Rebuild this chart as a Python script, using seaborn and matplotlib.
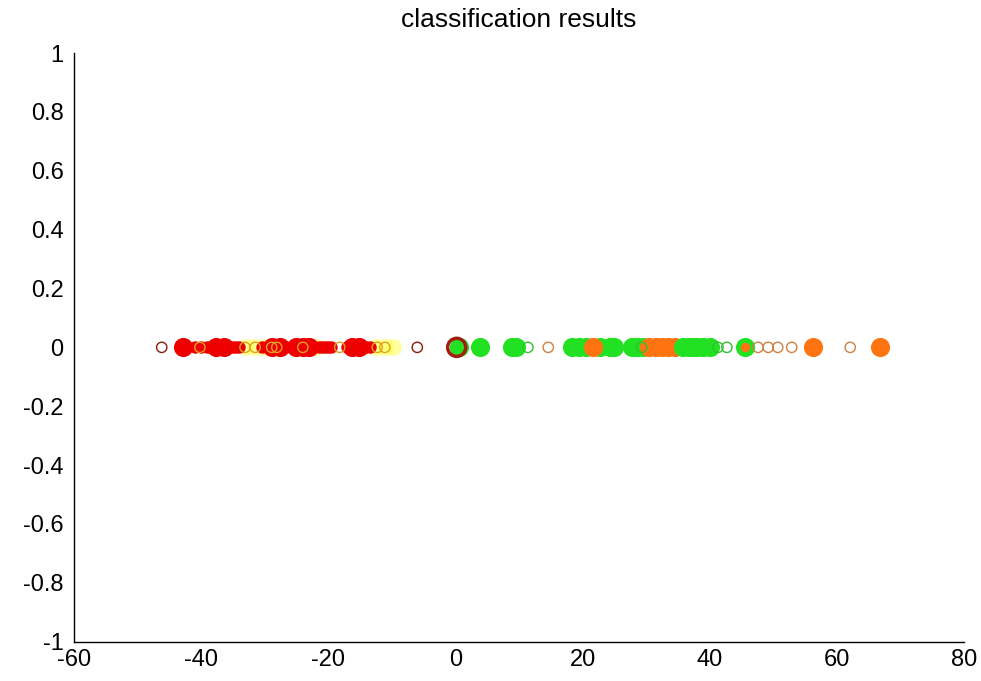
import matplotlib
matplotlib.use("Agg")
import matplotlib.pyplot as plt
import seaborn as sns
import numpy as np

sns.set_style("white")
plt.rcParams['font.family'] = ['Liberation Sans', 'DejaVu Sans']
plt.rcParams['axes.unicode_minus'] = False

title = "classification results"
x_ticks = [-60, -40, -20, 0, 20, 40, 60, 80]
x_tick_labels = ["-60", "-40", "-20", "0", "20", "40", "60", "80"]
y_ticks = [-1, -0.8, -0.6, -0.4, -0.2, 0, 0.2, 0.4, 0.6, 0.8, 1]
y_tick_labels = ["-1", "-0.8", "-0.6", "-0.4", "-0.2", "0", "0.2", "0.4", "0.6", "0.8", "1"]

# filled (large) markers
yellow_fill_x = [-33.0, -31.5, -30.0, -22.0, -12.5, -11.0, -9.8]
red_band_x = [-41.0, -40.0, -39.0, -38.5, -35.5, -35.0, -34.5, -34.0, -30.5, -27.0, -26.0,
              -22.5, -21.5, -21.0, -20.5, -20.0, -19.5, -17.0, -16.5, -14.0, -13.5]
red_fill_x = [-42.9, -37.6, -36.4, -28.9, -27.6, -25.0, -24.0, -23.0, -16.3, -15.2]
green_fill_x = [0.5, 3.9, 8.9, 9.6, 18.3, 19.5, 20.5, 22.8, 24.3, 25.0, 27.8, 28.5, 29.5, 37.2, 45.5]
orange_fill_x = [21.6, 30.5, 31.5, 32.5, 33.5, 34.5, 56.2, 66.8]
green_fill_top_x = [35.8, 36.8, 38.0, 39.0, 40.0]
orange_center_x = [45.5]

# open markers
darkred_open_x = [-46.2, -6.0]
darkred_ring_x = [0.2]
gold_open_x = [-40.2, -33.1, -31.5, -28.9, -28.1, -24.0, -18.2, -12.3, -11.1]
green_open_x = [11.4, 29.3, 41.3, 42.7]
brown_open_x = [14.6, 47.6, 49.2, 50.7, 52.9, 62.1]

fig = plt.figure(figsize=(9.81, 6.81), dpi=100)
ax = fig.add_axes([74 / 981, 39.3 / 681, 890 / 981, 588.7 / 681])

BIG = 190
MED = 80
OPEN = 55


def filled(xs, color, s=BIG, alpha=1.0):
    sns.scatterplot(x=xs, y=np.zeros(len(xs)), ax=ax, color=color, s=s,
                    linewidth=0, alpha=alpha, marker='o', legend=False)


def opened(xs, color, s=OPEN, lw=1.0):
    sns.scatterplot(x=xs, y=np.zeros(len(xs)), ax=ax, s=s, marker='o',
                    facecolors='none', edgecolor=color, linewidth=lw, legend=False)


filled(yellow_fill_x, '#ffff40', s=150, alpha=0.5)
filled(red_band_x, '#ee0000', s=MED)
filled(red_fill_x, '#ee0000')
filled(green_fill_x, '#22e022')
filled(orange_fill_x, '#ff7410')
filled(green_fill_top_x, '#22e022')
filled(orange_center_x, '#ff7410', s=45)

opened(darkred_open_x, '#8a1a10')
opened(darkred_ring_x, '#a02010', s=170, lw=2.5)
opened(gold_open_x, '#e0a020')
opened(green_open_x, '#30c030')
opened(brown_open_x, '#d08040')

ax.set_xlim(-60, 80)
ax.set_ylim(-1, 1)
ax.set_xticks(x_ticks)
ax.set_xticklabels(x_tick_labels)
ax.set_yticks(y_ticks)
ax.set_yticklabels(y_tick_labels)
ax.tick_params(direction='in', length=5, width=1, labelsize=17, colors='black')
ax.tick_params(axis='y', pad=7.5)
ax.tick_params(axis='x', pad=5)
for side in ['top', 'right']:
    ax.spines[side].set_visible(False)
for side in ['left', 'bottom']:
    ax.spines[side].set_color('black')
    ax.spines[side].set_linewidth(1)
ax.set_xlabel("")
ax.set_ylabel("")
ax.set_title(title, fontsize=19, pad=19, color='black')

fig.savefig("out.png", dpi=100)
